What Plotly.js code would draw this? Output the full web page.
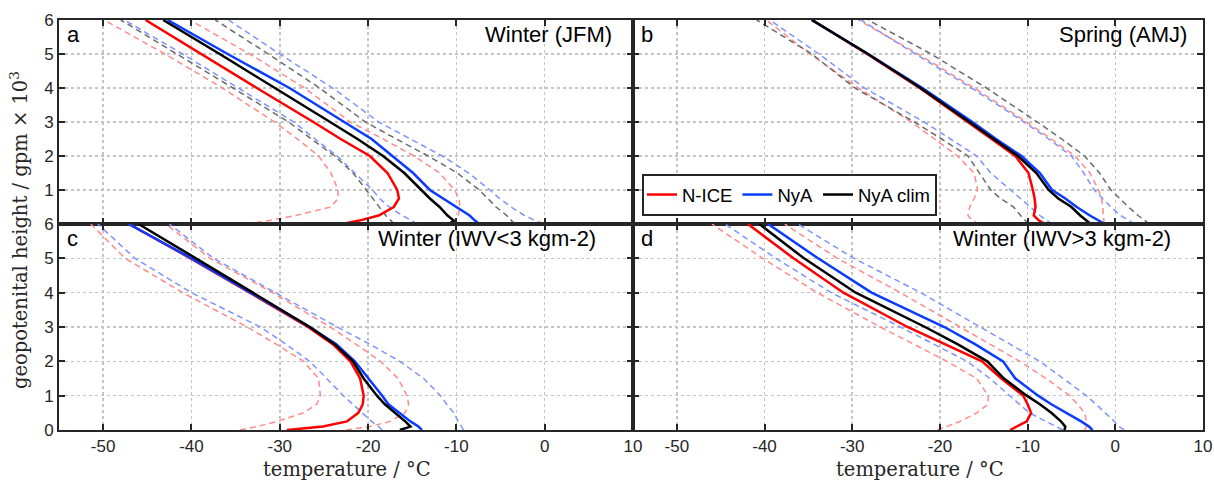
<!DOCTYPE html>
<html>
<head>
<meta charset="utf-8">
<script src="https://cdn.plot.ly/plotly-3.0.1.min.js"></script>
<style>html,body{margin:0;padding:0;background:#fff;}#chart{width:1214px;height:485px;}</style>
</head>
<body>
<div id="chart"></div>
<script>
// geopotential height levels (gpm x 10^3)
const heights = [0, 0.1, 0.25, 0.5, 0.75, 1, 1.5, 2, 2.5, 3, 4, 5, 6];

// Panel a: Winter (JFM)
const aNice   = [-22.9, -21.0, -18.8, -17.1, -16.5, -16.7, -17.8, -19.8, -23.1, -26.2, -32.6, -38.9, -45.2];
const aNyA    = [-7.4, -7.9, -8.5, -10.0, -11.5, -13.0, -14.9, -17.2, -19.6, -22.7, -28.9, -35.9, -42.7];
const aClim   = [-10.8, -10.3, -11.0, -11.9, -13.0, -14.0, -15.9, -18.3, -21.2, -24.3, -30.5, -36.8, -43.2];
const aNiceLo = [-33.8, -31.2, -28.2, -24.2, -23.4, -23.4, -24.2, -25.6, -28.0, -30.6, -36.5, -43.0, -49.9];
const aNiceHi = [-10.4, -10.1, -9.8, -9.6, -9.7, -10.2, -11.9, -14.8, -18.3, -22.0, -27.2, -33.4, -40.2];
const aNyALo  = [-14.4, -15.1, -16.1, -17.6, -18.7, -19.5, -21.5, -23.5, -26.0, -28.4, -34.7, -41.0, -47.6];
const aNyAHi  = [-0.2, -1.0, -2.3, -3.8, -5.1, -6.2, -8.6, -11.6, -15.2, -18.8, -24.0, -30.0, -35.8];
const aClimLo = [-17.1, -17.4, -18.0, -18.7, -19.5, -20.2, -21.7, -23.8, -26.4, -29.0, -35.3, -41.6, -48.0];
const aClimHi = [-3.4, -3.8, -4.3, -5.5, -6.4, -7.4, -9.9, -13.2, -16.8, -20.3, -25.5, -31.3, -37.3];

// Panel b: Spring (AMJ)
const bNice   = [-8.0, -8.7, -9.3, -9.1, -9.2, -9.4, -9.9, -11.4, -14.1, -16.8, -22.3, -28.3, -34.6];
const bNyA    = [-1.2, -1.9, -2.9, -4.4, -5.7, -7.2, -8.6, -10.7, -13.6, -16.3, -22.0, -28.2, -34.6];
const bClim   = [-2.8, -3.3, -4.0, -5.0, -6.5, -7.6, -9.0, -11.1, -13.9, -16.6, -22.2, -28.2, -34.6];
const bNiceLo = [-15.5, -16.3, -16.8, -16.6, -16.1, -15.7, -16.1, -18.0, -20.6, -23.3, -29.3, -34.8, -39.8];
const bNiceHi = [-1.3, -1.3, -1.4, -1.4, -1.6, -1.9, -2.9, -4.6, -7.3, -10.1, -16.1, -22.5, -29.3];
const bNyALo  = [-7.2, -7.8, -8.6, -9.7, -10.8, -12.0, -14.2, -15.8, -18.8, -21.8, -28.6, -33.8, -39.4];
const bNyAHi  = [2.2, 1.5, 0.6, -0.5, -1.5, -2.4, -3.6, -5.0, -7.6, -10.4, -16.4, -22.8, -29.0];
const bClimLo = [-9.9, -10.3, -10.8, -11.6, -13.1, -14.2, -15.5, -16.8, -19.8, -22.9, -29.7, -34.6, -40.9];
const bClimHi = [3.9, 3.4, 2.6, 1.5, 0.5, -0.5, -1.8, -3.5, -6.1, -8.9, -14.7, -21.0, -28.2];

// Panel c: Winter (IWV<3 kgm-2)
const cNice   = [-29.2, -25.1, -22.4, -21.1, -20.6, -20.5, -20.9, -22.0, -24.0, -26.8, -33.4, -40.1, -47.1];
const cNyA    = [-13.9, -14.3, -15.2, -16.4, -17.7, -18.4, -20.0, -21.5, -23.6, -26.6, -33.3, -40.0, -47.1];
const cClim   = [-16.4, -15.2, -15.8, -16.9, -18.1, -19.0, -20.5, -21.7, -23.8, -26.6, -33.0, -39.5, -46.0];
const cNiceLo = [-34.5, -32.6, -30.3, -27.3, -25.8, -25.4, -25.6, -27.3, -30.4, -33.7, -41.0, -47.5, -51.4];
const cNiceHi = [-22.5, -19.8, -17.5, -15.8, -15.4, -15.6, -16.6, -18.6, -21.4, -24.3, -30.8, -37.9, -42.9];
const cNyALo  = [-18.4, -18.8, -19.6, -20.7, -21.7, -22.8, -24.7, -26.6, -29.3, -32.2, -40.0, -46.4, -50.6];
const cNyAHi  = [-9.2, -9.4, -9.8, -10.3, -11.1, -11.8, -13.7, -16.4, -19.8, -23.5, -30.5, -37.5, -42.5];

// Panel d: Winter (IWV>3 kgm-2)
const dNice   = [-12.0, -11.3, -10.1, -9.6, -10.0, -10.5, -13.0, -15.2, -19.5, -23.7, -31.0, -36.7, -41.9];
const dNyA    = [-2.6, -3.0, -3.9, -5.6, -7.3, -8.8, -11.4, -12.8, -16.0, -19.5, -27.8, -33.9, -39.6];
const dClim   = [-5.8, -5.7, -6.2, -7.3, -8.6, -10.1, -12.7, -14.6, -18.0, -21.7, -29.6, -35.5, -40.6];
const dNiceLo = [-20.3, -19.2, -17.7, -15.8, -14.5, -14.5, -15.8, -19.2, -23.0, -26.8, -34.0, -40.2, -46.0];
const dNiceHi = [-3.5, -3.3, -3.3, -3.5, -4.3, -5.2, -7.9, -10.9, -14.3, -17.7, -24.5, -31.7, -37.7];
const dNyALo  = [-6.0, -6.8, -7.9, -9.8, -10.9, -12.0, -14.3, -16.9, -20.7, -24.5, -32.4, -38.7, -44.5];
const dNyAHi  = [1.0, 0.4, -0.1, -1.1, -2.2, -3.3, -6.0, -8.6, -12.0, -15.4, -22.2, -29.8, -36.2];

const seriesNames = ['N-ICE', 'NyA', 'NyA clim'];
const panelTitles = ['Winter (JFM)', 'Spring (AMJ)', 'Winter (IWV<3 kgm-2)', 'Winter (IWV>3 kgm-2)'];
const panelLetters = ['a', 'b', 'c', 'd'];
const xTickVals = [-50, -40, -30, -20, -10, 0, 10];
const xTickText = ['-50', '-40', '-30', '-20', '-10', '0', '10'];
const yTickValsTop = [1, 2, 3, 4, 5, 6];
const yTickValsBottom = [0, 1, 2, 3, 4, 5, 6];

const solidCol = {'N-ICE': '#ff0000', 'NyA': '#0a3cff', 'NyA clim': '#000000'};
const dashCol  = {'N-ICE': '#ff8a8a', 'NyA': '#7f93ff', 'NyA clim': '#6a6a6a'};

const panels = [
  {solid: {'N-ICE': aNice, 'NyA': aNyA, 'NyA clim': aClim},
   dashed: [['N-ICE', aNiceLo], ['N-ICE', aNiceHi], ['NyA', aNyALo], ['NyA', aNyAHi], ['NyA clim', aClimLo], ['NyA clim', aClimHi]]},
  {solid: {'N-ICE': bNice, 'NyA': bNyA, 'NyA clim': bClim},
   dashed: [['N-ICE', bNiceLo], ['N-ICE', bNiceHi], ['NyA', bNyALo], ['NyA', bNyAHi], ['NyA clim', bClimLo], ['NyA clim', bClimHi]]},
  {solid: {'N-ICE': cNice, 'NyA': cNyA, 'NyA clim': cClim},
   dashed: [['N-ICE', cNiceLo], ['N-ICE', cNiceHi], ['NyA', cNyALo], ['NyA', cNyAHi]]},
  {solid: {'N-ICE': dNice, 'NyA': dNyA, 'NyA clim': dClim},
   dashed: [['N-ICE', dNiceLo], ['N-ICE', dNiceHi], ['NyA', dNyALo], ['NyA', dNyAHi]]}
];

const traces = [];
panels.forEach((p, i) => {
  const xa = i === 0 ? 'x' : 'x' + (i + 1);
  const ya = i === 0 ? 'y' : 'y' + (i + 1);
  p.dashed.forEach(([name, vals]) => {
    traces.push({x: vals, y: heights, xaxis: xa, yaxis: ya, type: 'scatter', mode: 'lines',
      line: {color: dashCol[name], width: 1.5, dash: '6px,4px'}, showlegend: false, hoverinfo: 'skip'});
  });
  seriesNames.forEach(name => {
    traces.push({x: p.solid[name], y: heights, xaxis: xa, yaxis: ya, type: 'scatter', mode: 'lines',
      name: name, legendgroup: name, line: {color: solidCol[name], width: 2.5},
      showlegend: i === 1});
  });
});

const W = 1214, H = 485;
const xDomL = [59 / W, 633 / W], xDomR = [633 / W, 1203 / W];
const yDomT = [1 - 224 / H, 1 - 20 / H], yDomB = [1 - 430 / H, 1 - 224 / H];
const axCol = '#262626';
const tickFont = {family: 'Liberation Sans, Arial, sans-serif', size: 17, color: axCol};

function xAxis(dom, anchor, showLabels) {
  return {domain: dom, anchor: anchor, range: [-55, 10], tickmode: 'array', tickvals: xTickVals, ticktext: xTickText,
    showticklabels: showLabels, ticklabeloverflow: 'allow', ticks: 'inside', ticklen: 6, tickwidth: 2, tickcolor: axCol,
    showline: true, linecolor: axCol, linewidth: 2, mirror: 'ticks',
    showgrid: true, gridcolor: '#c4c4c4', gridwidth: 1.5, griddash: 'dot', zeroline: false,
    tickfont: tickFont, fixedrange: true};
}
function yAxis(dom, anchor, showLabels, vals) {
  return {domain: dom, anchor: anchor, range: [0, 6], tickmode: 'array', tickvals: vals,
    showticklabels: showLabels, ticklabeloverflow: 'allow', ticks: 'inside', ticklen: 6, tickwidth: 2, tickcolor: axCol,
    showline: true, linecolor: axCol, linewidth: 2, mirror: 'ticks',
    showgrid: true, gridcolor: '#c4c4c4', gridwidth: 1.5, griddash: 'dot', zeroline: false,
    tickfont: tickFont, fixedrange: true};
}

const titleX = [0.967, 0.976, 0.939, 0.947];
const annotations = [];
const axNames = [['x', 'y'], ['x2', 'y2'], ['x3', 'y3'], ['x4', 'y4']];
const sans22 = {family: 'Liberation Sans, Arial, sans-serif', size: 22, color: '#000'};
axNames.forEach(([xa, ya], i) => {
  annotations.push({text: panelLetters[i], xref: xa + ' domain', yref: ya + ' domain', x: 0.011, y: 0.93,
    xanchor: 'left', yanchor: 'middle', showarrow: false, font: sans22});
  annotations.push({text: panelTitles[i], xref: xa + ' domain', yref: ya + ' domain', x: titleX[i], y: 0.93,
    xanchor: 'right', yanchor: 'middle', showarrow: false, font: sans22});
});
const serif = {family: 'DejaVu Serif, serif', size: 19.5, color: axCol};
annotations.push({text: 'temperature / °C', xref: 'paper', yref: 'paper', x: 347 / W, y: 1 - 469 / H,
  xanchor: 'center', yanchor: 'middle', showarrow: false, font: serif});
annotations.push({text: 'temperature / °C', xref: 'paper', yref: 'paper', x: 920 / W, y: 1 - 469 / H,
  xanchor: 'center', yanchor: 'middle', showarrow: false, font: serif});
annotations.push({text: 'geopotenital height / gpm × 10<sup>3</sup>', xref: 'paper', yref: 'paper',
  x: 19 / W, y: 1 - 230 / H, xanchor: 'center', yanchor: 'middle', textangle: -90, showarrow: false, font: serif});

const layout = {
  width: W, height: H, margin: {l: 0, r: 0, t: 0, b: 0}, paper_bgcolor: '#fff', plot_bgcolor: '#fff',
  showlegend: true,
  legend: {orientation: 'h', x: 642 / W, y: 1 - 216 / H, xanchor: 'left', yanchor: 'bottom',
    bgcolor: '#fff', bordercolor: axCol, borderwidth: 2, itemwidth: 30, tracegroupgap: 0,
    font: {family: 'Liberation Sans, Arial, sans-serif', size: 18.5, color: '#000'}},
  xaxis: xAxis(xDomL, 'y', false), yaxis: yAxis(yDomT, 'x', true, yTickValsTop),
  xaxis2: xAxis(xDomR, 'y2', false), yaxis2: yAxis(yDomT, 'x2', false, yTickValsTop),
  xaxis3: xAxis(xDomL, 'y3', true), yaxis3: yAxis(yDomB, 'x3', true, yTickValsBottom),
  xaxis4: xAxis(xDomR, 'y4', true), yaxis4: yAxis(yDomB, 'x4', false, yTickValsBottom),
  annotations: annotations
};

Plotly.newPlot('chart', traces, layout, {displayModeBar: false, staticPlot: true});
</script>
</body>
</html>
